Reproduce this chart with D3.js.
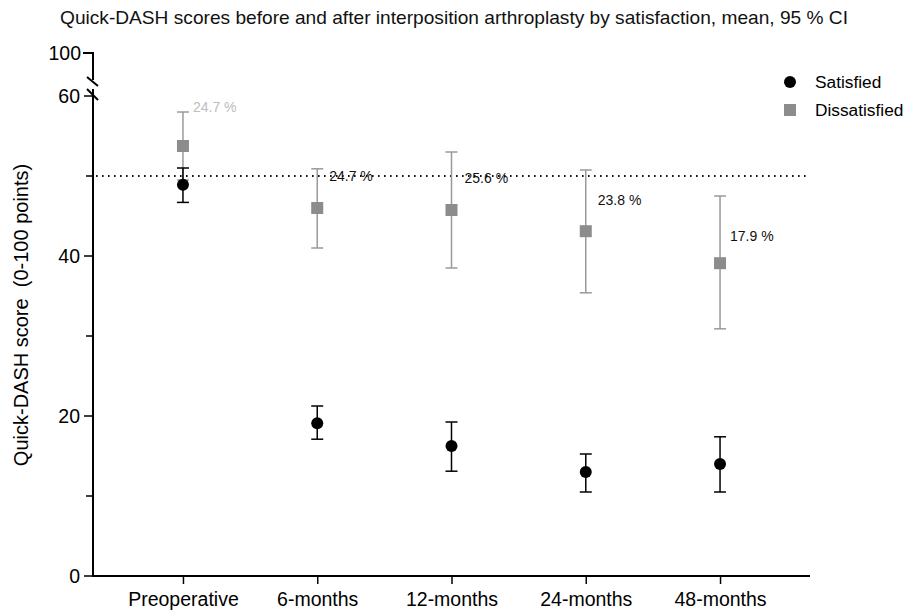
<!DOCTYPE html>
<html><head><meta charset="utf-8">
<script src="https://cdn.jsdelivr.net/npm/d3@7/dist/d3.min.js"></script>
<style>body{margin:0;background:#fff}svg{display:block;font-family:"Liberation Sans",Arial,sans-serif}</style>
</head><body>
<svg id="c" width="908" height="611"></svg>
<script>
const categories = ["Preoperative","6-months","12-months","24-months","48-months"];
const satMean  = [48.9, 19.1, 16.25, 13.0, 14.0];
const satLow   = [46.7, 17.1, 13.1, 10.5, 10.5];
const satHigh  = [51.0, 21.25, 19.25, 15.25, 17.4];
const disMean  = [53.75, 46.0, 45.75, 43.1, 39.1];
const disLow   = [49.5, 41.0, 38.5, 35.4, 30.9];
const disHigh  = [58.0, 50.9, 53.0, 50.75, 47.5];
const pctLabels = ["24.7 %","24.7 %","25.6 %","23.8 %","17.9 %"];
const refValue = 50;
const yTicksMajor = [0,20,40,60];
const yTicksMinor = [10,30,50];
const seriesNames = ["Satisfied","Dissatisfied"];

const svg = d3.select("#c");
const x = d3.scalePoint().domain(categories).range([93,810]).padding(0.67);
const y = d3.scaleLinear().domain([0,60]).range([576,96]);

// title
svg.append("text").attr("x",454).attr("y",24).attr("text-anchor","middle")
  .attr("font-size",19).attr("fill","#111")
  .attr("textLength",788).attr("lengthAdjust","spacingAndGlyphs")
  .text("Quick-DASH scores before and after interposition arthroplasty by satisfaction, mean, 95 % CI");

// y axis lower segment
const axisG = svg.append("g");
axisG.append("line").attr("x1",93).attr("x2",93).attr("y1",y(0)).attr("y2",89)
  .attr("stroke","#000").attr("stroke-width",2);
yTicksMajor.forEach(v=>{
  axisG.append("line").attr("x1",84).attr("x2",93).attr("y1",y(v)).attr("y2",y(v)).attr("stroke","#000").attr("stroke-width",1.5);
  axisG.append("text").attr("x",80).attr("y",y(v)).attr("dy","0.35em").attr("text-anchor","end")
    .attr("font-size",19.5).text(v);
});
yTicksMinor.forEach(v=>{
  axisG.append("line").attr("x1",86).attr("x2",93).attr("y1",y(v)).attr("y2",y(v)).attr("stroke","#000").attr("stroke-width",1.5);
});
// upper segment with break
axisG.append("path").attr("d","M83,53 H93 V80").attr("fill","none").attr("stroke","#000").attr("stroke-width",2);
axisG.append("line").attr("x1",87).attr("y1",77).attr("x2",98).attr("y2",86).attr("stroke","#000").attr("stroke-width",2);
axisG.append("line").attr("x1",87).attr("y1",89).attr("x2",98).attr("y2",100).attr("stroke","#000").attr("stroke-width",2);
axisG.append("text").attr("x",81).attr("y",53).attr("dy","0.35em").attr("text-anchor","end")
  .attr("font-size",19.5).text("100");

// x axis
const xAxis = svg.append("g").attr("transform","translate(0,576)")
  .call(d3.axisBottom(x).tickSize(8).tickSizeOuter(0));
xAxis.select(".domain").attr("d","M92,0H810").attr("stroke","#000").attr("stroke-width",2);
xAxis.selectAll(".tick line").attr("stroke","#000").attr("stroke-width",1.5);
xAxis.selectAll(".tick text").attr("font-size",19.5).attr("fill","#000").attr("dy","0.95em")
  .attr("font-family","'Liberation Sans',Arial,sans-serif");

// y label
svg.append("text").attr("transform","translate(28,315) rotate(-90)").attr("text-anchor","middle")
  .attr("font-size",20).attr("xml:space","preserve").text("Quick-DASH score  (0-100 points)");

// reference line
svg.append("line").attr("x1",96).attr("x2",806).attr("y1",y(refValue)).attr("y2",y(refValue))
  .attr("stroke","#111").attr("stroke-width",2).attr("stroke-dasharray","1.6,4.4");

// error bars
function errbars(low, high, color, w){
  const g = svg.append("g");
  categories.forEach((c,i)=>{
    const cx = x(c);
    g.append("line").attr("x1",cx).attr("x2",cx).attr("y1",y(low[i])).attr("y2",y(high[i])).attr("stroke",color).attr("stroke-width",w);
    [low[i],high[i]].forEach(v=>g.append("line").attr("x1",cx-6).attr("x2",cx+6).attr("y1",y(v)).attr("y2",y(v)).attr("stroke",color).attr("stroke-width",w));
  });
}
errbars(disLow, disHigh, "#9a9a9a", 1.5);
errbars(satLow, satHigh, "#000", 1.5);

// markers
svg.append("g").selectAll("rect").data(disMean).join("rect")
  .attr("x",(d,i)=>x(categories[i])-6).attr("y",d=>y(d)-6).attr("width",12).attr("height",12).attr("fill","#8c8c8c");
svg.append("g").selectAll("circle").data(satMean).join("circle")
  .attr("cx",(d,i)=>x(categories[i])).attr("cy",d=>y(d)).attr("r",6).attr("fill","#000");

// percentage labels
const labelLayout = [
  {dx:10, v:58.6, color:"#bdbdbd"},
  {dx:12, v:50.0, color:"#111"},
  {dx:13, v:49.8, color:"#111"},
  {dx:12, v:47.0, color:"#111"},
  {dx:10, v:42.5, color:"#111"}
];
pctLabels.forEach((t,i)=>{
  svg.append("text").attr("x",x(categories[i])+labelLayout[i].dx).attr("y",y(labelLayout[i].v))
    .attr("dy","0.35em").attr("font-size",14).attr("fill",labelLayout[i].color).text(t);
});

// legend
const lg = svg.append("g");
lg.append("circle").attr("cx",790).attr("cy",82).attr("r",6).attr("fill","#000");
lg.append("rect").attr("x",784).attr("y",104).attr("width",12).attr("height",12).attr("fill","#8c8c8c");
seriesNames.forEach((s,i)=>lg.append("text").attr("x",815).attr("y",82+i*28).attr("dy","0.35em").attr("font-size",17.3).text(s));
</script>
</body></html>
